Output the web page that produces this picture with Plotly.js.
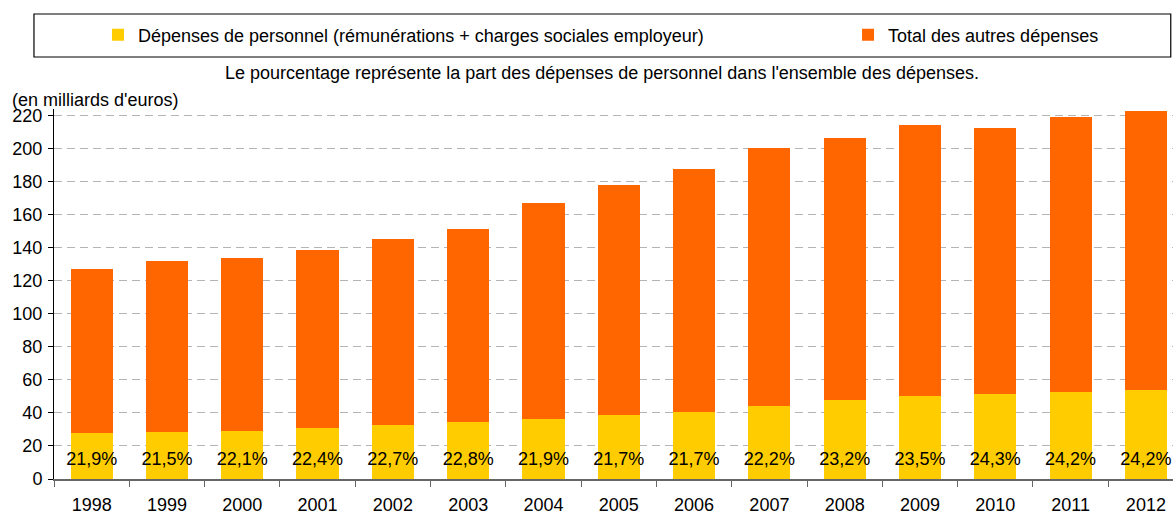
<!DOCTYPE html>
<html><head><meta charset="utf-8">
<script src="https://cdn.plot.ly/plotly-3.0.1.min.js"></script>
<style>html,body{margin:0;padding:0;background:#fff;overflow:hidden}#chart{width:1173px;height:514px}</style>
</head><body><div id="chart"></div>
<script>
const years = ['1998','1999','2000','2001','2002','2003','2004','2005','2006','2007','2008','2009','2010','2011','2012'];
const personnel = [27.8, 28.5, 29.2, 30.9, 32.8, 34.4, 36.4, 38.6, 40.6, 44.4, 47.8, 50.3, 51.6, 52.9, 54.0];
const autres = [99.1, 103.3, 104.4, 107.5, 112.3, 116.7, 130.5, 139.2, 146.9, 155.8, 158.4, 163.8, 160.7, 166.0, 168.6];
const pctLabels = ['21,9%','21,5%','22,1%','22,4%','22,7%','22,8%','21,9%','21,7%','21,7%','22,2%','23,2%','23,5%','24,3%','24,2%','24,2%'];
const yTicks = [0,20,40,60,80,100,120,140,160,180,200,220];

const FONT = 'Liberation Sans, Arial, sans-serif';
const labelY = 11.5;

const traces = [
  {type:'bar', x: years, y: personnel, name:'Dépenses de personnel (rémunérations + charges sociales employeur)',
   marker:{color:'#FFCC00'}, width:0.56, hoverinfo:'y', legend:'legend'},
  {type:'bar', x: years, y: autres, name:'Total des autres dépenses',
   marker:{color:'#FF6600'}, width:0.56, hoverinfo:'y', legend:'legend2'},
  {type:'scatter', mode:'text', x: years, y: years.map(()=>labelY), text: pctLabels,
   textfont:{family:FONT, size:18, color:'#000'}, showlegend:false, hoverinfo:'skip', cliponaxis:false}
];

const legendBase = {orientation:'h', xanchor:'left', y:1.2, yanchor:'middle',
  font:{family:FONT, size:18, color:'#000'}, bgcolor:'rgba(0,0,0,0)', borderwidth:0};

const layout = {
  width:1173, height:514,
  margin:{l:54, r:0, t:109, b:35, autoexpand:false},
  paper_bgcolor:'#fff', plot_bgcolor:'#fff',
  barmode:'stack',
  font:{family:FONT, size:18, color:'#000'},
  xaxis:{type:'category', range:[-0.5, 14.36], tickson:'boundaries', ticks:'outside', ticklen:6,
         tickcolor:'#666', showline:true, linecolor:'#666', linewidth:1.5, showgrid:false,
         ticklabelstandoff:9, automargin:false,
         tickfont:{family:FONT, size:18, color:'#000'}, fixedrange:true},
  yaxis:{range:[0,224], tickmode:'array', tickvals:yTicks, ticks:'outside', ticklen:5, tickcolor:'#000',
         showline:true, linecolor:'#000', linewidth:1, showgrid:true, gridcolor:'#b4b4b4', griddash:'8px,5px',
         zeroline:false, ticklabelstandoff:2, automargin:false,
         tickfont:{family:FONT, size:18, color:'#000'}, fixedrange:true},
  legend:Object.assign({}, legendBase, {x:0.0393}),
  legend2:Object.assign({}, legendBase, {x:0.7096}),
  shapes:[{type:'rect', xref:'paper', yref:'paper', x0:-0.0179, x1:0.998, y0:1.1405, y1:1.2568,
           line:{color:'#000', width:1.2}, fillcolor:'rgba(0,0,0,0)', layer:'below'}],
  annotations:[
    {xref:'paper', yref:'paper', x:0.4897, y:1.097, xanchor:'center', yanchor:'middle', showarrow:false,
     text:"Le pourcentage représente la part des dépenses de personnel dans l'ensemble des dépenses.",
     font:{family:FONT, size:18, color:'#000'}},
    {xref:'paper', yref:'paper', x:-0.0393, y:1.024, xanchor:'left', yanchor:'middle', showarrow:false,
     text:"(en milliards d'euros)", font:{family:FONT, size:18, color:'#000'}}
  ]
};

Plotly.newPlot('chart', traces, layout, {displayModeBar:false, staticPlot:true});
</script></body></html>
